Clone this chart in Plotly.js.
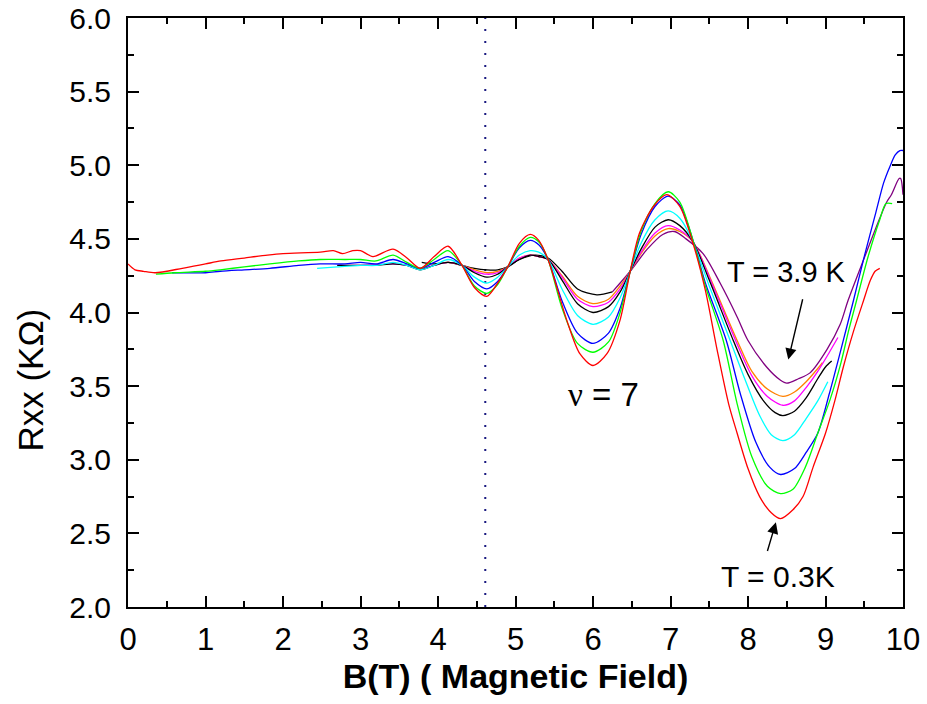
<!DOCTYPE html>
<html>
<head>
<meta charset="utf-8">
<script src="https://cdn.plot.ly/plotly-3.0.1.min.js"></script>
<style>html,body{margin:0;padding:0;background:#fff;}#chart{width:927px;height:704px;}</style>
</head>
<body>
<div id="chart"></div>
<script>
// ---- data (B in tesla, Rxx in kOhm) ----
const redB = [0,0.09,0.2,0.35,0.7,1.0,1.2,1.5,1.8,2.0,2.48,2.65,2.77,2.9,3.0,3.16,3.42,3.6,3.77,3.95,4.13,4.31,4.47,4.63,4.77,4.9,5.05,5.19,5.3,5.42,5.66,5.83,6.0,6.18,6.35,6.48,6.6,6.78,6.95,7.12,7.29,7.45,7.6,7.75,7.86,8.0,8.15,8.3,8.42,8.58,8.71,8.84,9.0,9.12,9.23,9.36,9.49,9.58,9.64,9.7];
const redR = [4.33,4.29,4.28,4.27,4.30,4.33,4.35,4.37,4.39,4.40,4.41,4.42,4.40,4.42,4.42,4.38,4.43,4.37,4.30,4.38,4.45,4.32,4.17,4.11,4.20,4.31,4.47,4.53,4.49,4.36,3.95,3.72,3.64,3.72,3.95,4.28,4.54,4.72,4.80,4.72,4.47,4.15,3.75,3.38,3.18,2.94,2.75,2.64,2.60,2.66,2.75,2.95,3.18,3.40,3.63,3.87,4.08,4.22,4.28,4.30];

const greenB = [0.36,0.6,1.0,1.19,1.5,1.83,2.2,2.48,2.8,3.0,3.2,3.42,3.6,3.77,3.95,4.13,4.31,4.47,4.63,4.77,4.9,5.05,5.19,5.3,5.42,5.6,5.8,6.0,6.2,6.35,6.48,6.62,6.8,6.97,7.12,7.29,7.45,7.68,7.86,8.05,8.25,8.42,8.58,8.74,8.9,9.06,9.2,9.3,9.4,9.55,9.7,9.78,9.86];
const greenR = [4.26,4.27,4.28,4.29,4.31,4.33,4.35,4.36,4.36,4.36,4.35,4.39,4.34,4.30,4.36,4.42,4.32,4.18,4.13,4.19,4.31,4.45,4.51,4.48,4.36,4.03,3.79,3.73,3.80,4.00,4.28,4.55,4.74,4.82,4.75,4.49,4.18,3.81,3.38,3.02,2.82,2.77,2.80,2.95,3.18,3.41,3.66,3.88,4.08,4.38,4.63,4.74,4.74];

const blueB = [0.57,1.0,1.19,1.5,1.83,2.2,2.48,2.8,3.0,3.2,3.42,3.6,3.77,3.95,4.13,4.31,4.47,4.63,4.77,4.9,5.05,5.19,5.3,5.42,5.6,5.8,6.0,6.2,6.35,6.48,6.62,6.8,6.97,7.12,7.29,7.45,7.72,7.9,8.1,8.28,8.42,8.6,8.75,8.9,9.05,9.2,9.36,9.5,9.65,9.75,9.83,9.9,9.96,10.0];
const blueR = [4.27,4.27,4.28,4.29,4.30,4.32,4.33,4.33,4.34,4.33,4.36,4.33,4.30,4.34,4.38,4.32,4.21,4.16,4.21,4.31,4.44,4.49,4.46,4.36,4.08,3.86,3.79,3.86,4.03,4.28,4.53,4.72,4.79,4.73,4.49,4.20,3.81,3.45,3.12,2.95,2.90,2.94,3.05,3.18,3.45,3.75,4.08,4.38,4.68,4.88,4.99,5.07,5.10,5.10];

const cyanB = [2.44,2.7,3.0,3.2,3.42,3.6,3.77,3.95,4.13,4.31,4.47,4.63,4.77,4.9,5.05,5.19,5.3,5.42,5.6,5.8,6.0,6.2,6.35,6.48,6.62,6.8,6.97,7.12,7.29,7.5,7.77,7.95,8.15,8.3,8.45,8.6,8.75,8.9,9.03];
const cyanR = [4.30,4.31,4.32,4.32,4.34,4.32,4.29,4.32,4.36,4.32,4.24,4.20,4.24,4.31,4.39,4.42,4.41,4.36,4.16,3.98,3.92,3.97,4.10,4.28,4.47,4.63,4.69,4.64,4.48,4.18,3.81,3.56,3.30,3.17,3.13,3.17,3.28,3.40,3.53];

const blackB = [2.7,3.0,3.2,3.42,3.6,3.77,3.95,4.13,4.31,4.47,4.63,4.77,4.9,5.05,5.19,5.3,5.42,5.6,5.8,6.0,6.2,6.35,6.48,6.62,6.8,6.97,7.12,7.29,7.5,7.81,8.0,8.2,8.35,8.45,8.6,8.75,8.9,9.0,9.08];
const blackR = [4.32,4.32,4.32,4.33,4.32,4.29,4.32,4.34,4.32,4.27,4.24,4.26,4.31,4.36,4.39,4.38,4.36,4.22,4.06,4.00,4.04,4.14,4.28,4.43,4.58,4.63,4.59,4.48,4.22,3.81,3.58,3.40,3.32,3.30,3.33,3.42,3.55,3.63,3.67];

const magentaB = [2.7,3.0,3.42,3.6,3.77,3.95,4.13,4.31,4.47,4.63,4.77,4.9,5.05,5.19,5.3,5.42,5.6,5.8,6.0,6.2,6.35,6.48,6.62,6.8,6.97,7.12,7.29,7.5,7.84,8.05,8.25,8.45,8.6,8.75,8.9,9.05,9.16];
const magentaR = [4.32,4.32,4.33,4.32,4.30,4.32,4.34,4.32,4.28,4.26,4.27,4.31,4.37,4.39,4.38,4.36,4.24,4.09,4.04,4.07,4.16,4.28,4.41,4.54,4.59,4.56,4.48,4.24,3.81,3.57,3.43,3.37,3.40,3.49,3.60,3.73,3.83];

const orangeB = [4.0,4.13,4.31,4.47,4.63,4.77,4.9,5.05,5.19,5.3,5.42,5.6,5.8,6.0,6.2,6.35,6.48,6.62,6.8,6.97,7.12,7.29,7.5,7.86,8.05,8.25,8.45,8.6,8.75,8.9,8.96];
const orangeR = [4.33,4.34,4.32,4.29,4.27,4.28,4.31,4.37,4.39,4.38,4.36,4.25,4.11,4.06,4.09,4.18,4.28,4.40,4.52,4.57,4.55,4.48,4.25,3.81,3.60,3.48,3.43,3.46,3.53,3.62,3.66];

// 3.9 K curve: first part recorded in black, rest in purple
const hotLowB = [3.79,3.95,4.13,4.31,4.47,4.63,4.77,4.9,5.05,5.25,5.42,5.6,5.8,6.05,6.25];
const hotLowR = [4.34,4.33,4.34,4.32,4.30,4.29,4.29,4.31,4.36,4.39,4.37,4.28,4.16,4.12,4.14];
const purpleB = [6.25,6.48,6.7,6.9,7.05,7.2,7.42,7.64,7.86,8.0,8.24,8.42,8.5,8.65,8.8,9.02,9.19,9.29,9.5,9.7,9.79,9.85,9.95,9.97,10.0];
const purpleR = [4.14,4.28,4.43,4.53,4.55,4.50,4.40,4.20,3.97,3.81,3.63,3.54,3.52,3.55,3.59,3.75,3.92,4.08,4.37,4.64,4.75,4.80,4.91,4.91,4.80];

const markerLineB = [4.61, 4.61];
const markerLineR = [2.0, 6.0];

const xTicks = [0,1,2,3,4,5,6,7,8,9,10];
const yTicks = [2.0,2.5,3.0,3.5,4.0,4.5,5.0,5.5,6.0];
const yTickText = ['2.0','2.5','3.0','3.5','4.0','4.5','5.0','5.5','6.0'];

// ---- traces ----
function curve(x, y, color) {
  return {x: x, y: y, type: 'scatter', mode: 'lines',
          line: {color: color, width: 1.3, shape: 'spline', smoothing: 0.8},
          hoverinfo: 'skip', showlegend: false};
}
const traces = [
  {x: markerLineB, y: markerLineR, type: 'scatter', mode: 'lines',
   line: {color: '#1a1a80', width: 2, dash: '2px,10px'}, showlegend: false, hoverinfo: 'skip'},
  curve(purpleB, purpleR, '#800080'),
  curve(hotLowB, hotLowR, '#000000'),
  curve(orangeB, orangeR, '#FF8000'),
  curve(magentaB, magentaR, '#FF00FF'),
  curve(blackB, blackR, '#000000'),
  curve(cyanB, cyanR, '#00FFFF'),
  curve(blueB, blueR, '#0000FF'),
  curve(greenB, greenR, '#00FF00'),
  curve(redB, redR, '#FF0000')
];

const sans = "'Liberation Sans', Arial, sans-serif";
const layout = {
  width: 927, height: 704,
  margin: {l: 128, r: 24, t: 18, b: 97},
  paper_bgcolor: '#fff', plot_bgcolor: '#fff',
  showlegend: false,
  xaxis: {
    range: [0, 10], tickvals: xTicks, ticktext: xTicks.map(String),
    ticks: 'inside', ticklen: 11, tickwidth: 2, tickcolor: '#000',
    minor: {dtick: 0.5, ticks: 'inside', ticklen: 6, tickwidth: 2, tickcolor: '#000'},
    showline: true, linewidth: 2, linecolor: '#000', mirror: 'ticks',
    showgrid: false, zeroline: false,
    tickfont: {family: sans, size: 31, color: '#000'},
    ticklabelstandoff: 4,
    title: {text: '<b>B(T) ( Magnetic Field)</b>', font: {family: sans, size: 34, color: '#000'}, standoff: 8}
  },
  yaxis: {
    range: [2, 6], tickvals: yTicks, ticktext: yTickText,
    ticks: 'inside', ticklen: 11, tickwidth: 2, tickcolor: '#000',
    minor: {dtick: 0.25, ticks: 'inside', ticklen: 6, tickwidth: 2, tickcolor: '#000'},
    showline: true, linewidth: 2, linecolor: '#000', mirror: 'ticks',
    showgrid: false, zeroline: false,
    tickfont: {family: sans, size: 30, color: '#000'},
    ticklabelstandoff: 9
  },
  annotations: [
    {x: -0.126, y: 0.385, xref: 'paper', yref: 'paper', text: 'Rxx (KΩ)', showarrow: false,
     textangle: -90, xanchor: 'center', yanchor: 'middle',
     font: {family: sans, size: 35, color: '#000'}},
    {x: 8.50, y: 4.275, xref: 'x', yref: 'y', text: 'T = 3.9 K', showarrow: false,
     font: {family: sans, size: 29, color: '#000'}},
    {x: 8.39, y: 2.21, xref: 'x', yref: 'y', text: 'T = 0.3K', showarrow: false,
     font: {family: sans, size: 30, color: '#000'}},
    {x: 6.13, y: 3.44, xref: 'x', yref: 'y', showarrow: false,
     text: '<span style="font-family:Liberation Serif, Times New Roman, serif">ν</span> = 7',
     font: {family: sans, size: 33, color: '#000'}},
    {x: 8.52, y: 3.68, ax: 8.71, ay: 4.10, xref: 'x', yref: 'y', axref: 'x', ayref: 'y',
     text: '', showarrow: true, arrowhead: 2, arrowsize: 1.6, arrowwidth: 1.4, arrowcolor: '#000'},
    {x: 8.36, y: 2.575, ax: 8.245, ay: 2.37, xref: 'x', yref: 'y', axref: 'x', ayref: 'y',
     text: '', showarrow: true, arrowhead: 2, arrowsize: 1.6, arrowwidth: 1.4, arrowcolor: '#000'}
  ]
};

Plotly.newPlot('chart', traces, layout, {displayModeBar: false, staticPlot: true});
</script>
</body>
</html>
